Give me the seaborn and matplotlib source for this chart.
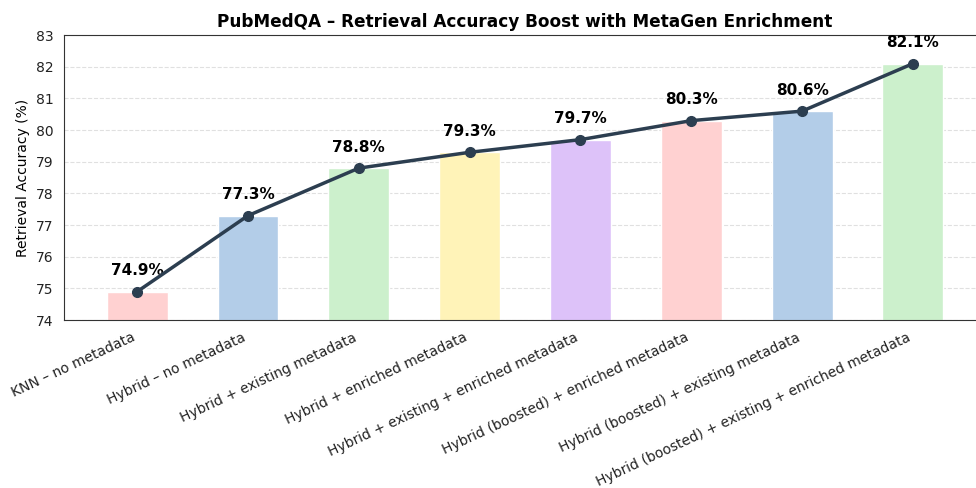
import matplotlib
matplotlib.use("Agg")
import matplotlib.pyplot as plt
import seaborn as sns
import pandas as pd

categories = [
    "KNN – no metadata",
    "Hybrid – no metadata",
    "Hybrid + existing metadata",
    "Hybrid + enriched metadata",
    "Hybrid + existing + enriched metadata",
    "Hybrid (boosted) + enriched metadata",
    "Hybrid (boosted) + existing metadata",
    "Hybrid (boosted) + existing + enriched metadata",
]
accuracy = [74.9, 77.3, 78.8, 79.3, 79.7, 80.3, 80.6, 82.1]
bar_colors = ["#FFD1D1", "#B3CDE8", "#CCF0CC", "#FFF3B8", "#DDC2F9",
              "#FFD1D1", "#B3CDE8", "#CCF0CC"]

sns.set_style("white")
plt.rcParams['font.family'] = ['DejaVu Sans']
plt.rcParams['text.color'] = 'black'
plt.rcParams['axes.labelcolor'] = 'black'
plt.rcParams['xtick.color'] = '#222222'
plt.rcParams['ytick.color'] = '#222222'

df = pd.DataFrame({"cat": categories, "acc": accuracy})

fig = plt.figure(figsize=(9.76, 4.88), dpi=100)
ax = fig.add_axes([0.0656, 0.344, 0.9447, 0.584])

sns.barplot(data=df, x="cat", y="acc", hue="cat", palette=bar_colors,
            width=0.55, legend=False, ax=ax, saturation=1)
ax.plot(range(len(accuracy)), accuracy, color="#2C3E50", linewidth=2.5,
        marker="o", markersize=7, zorder=5)

for i, v in enumerate(accuracy):
    ax.text(i, v + 0.42, f"{v:.1f}%", ha="center", va="bottom",
            fontsize=11, fontweight="bold", color="black")

ax.set_ylim(74, 83)
ax.set_xlim(-0.66, 7.66)
ax.set_yticks(range(74, 84))
ax.yaxis.grid(True, linestyle="--", color="#cccccc", alpha=0.6)
ax.set_axisbelow(True)
ax.set_xlabel("")
ax.set_ylabel("Retrieval Accuracy (%)", fontsize=10)
ax.set_title("PubMedQA – Retrieval Accuracy Boost with MetaGen Enrichment",
             fontsize=12.15, fontweight="bold", color="black")
ax.set_xticks(range(len(categories)))
ax.set_xticklabels(categories, rotation=25, ha="right", fontsize=10)
ax.tick_params(axis="both", which="both", length=4, color="#333333")
for s in ax.spines.values():
    s.set_color("#333333")

fig.savefig("out.png", dpi=100)
